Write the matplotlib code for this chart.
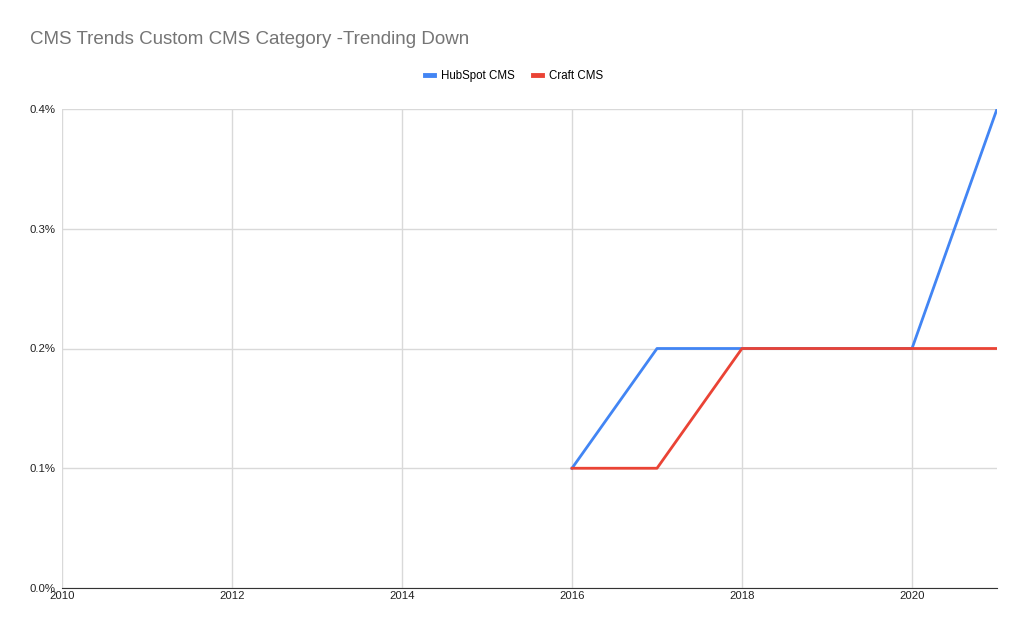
import matplotlib
matplotlib.use("Agg")
import matplotlib.pyplot as plt
from matplotlib.lines import Line2D

plt.rcParams['font.family'] = ['Liberation Sans', 'DejaVu Sans']

years = [2016, 2017, 2018, 2019, 2020, 2021]
hubspot = [0.1, 0.2, 0.2, 0.2, 0.2, 0.4]
craft = [0.1, 0.1, 0.2, 0.2, 0.2, 0.2]
xticks = [2010, 2012, 2014, 2016, 2018, 2020]
yticks = [0.0, 0.1, 0.2, 0.3, 0.4]

fig = plt.figure(figsize=(10.28, 6.35), dpi=100)
ax = fig.add_axes([62/1028, 47/635, 935/1028, 479/635])

ax.plot(years, hubspot, color='#4285f4', lw=2, label='HubSpot CMS')
ax.plot(years, craft, color='#ea4335', lw=2, label='Craft CMS')

ax.set_xlim(2010, 2021)
ax.set_ylim(0, 0.4)
ax.set_xticks(xticks)
ax.set_yticks(yticks)
ax.set_yticklabels(['%.1f%%' % v for v in yticks])
ax.grid(True, color='#d9d9d9', lw=1)
ax.set_axisbelow(True)
for s in ['top', 'right', 'left']:
    ax.spines[s].set_visible(False)
ax.spines['bottom'].set_color('#333333')
ax.tick_params(length=0, labelsize=8.2, colors='#222222')
ax.tick_params(axis='x', pad=2)
ax.tick_params(axis='y', pad=4.5)

fig.text(30/1028, 1 - 40/635, 'CMS Trends Custom CMS Category -Trending Down',
         fontsize=13.5, color='#757575', va='center', ha='left')

handles = [Line2D([], [], color='#4285f4', lw=3.5), Line2D([], [], color='#ea4335', lw=3.5)]
fig.legend(handles, ['HubSpot CMS', 'Craft CMS'], loc='center',
           bbox_to_anchor=(514/1028, 1 - 76/635), ncol=2, frameon=False,
           fontsize=8.3, handlelength=0.8, columnspacing=1.6, handletextpad=0.6)

fig.savefig('out.png', dpi=100)
